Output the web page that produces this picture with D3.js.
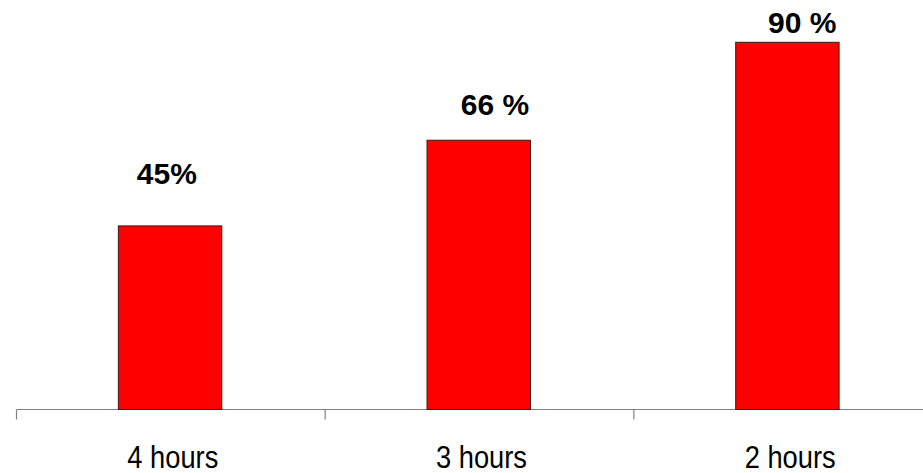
<!DOCTYPE html>
<html>
<head>
<meta charset="utf-8">
<script src="https://cdn.jsdelivr.net/npm/d3@7"></script>
<style>
  html, body { margin: 0; padding: 0; background: #fff; }
  svg { display: block; }
</style>
</head>
<body>
<svg id="chart" width="923" height="473"></svg>
<script>
// Share of cases per time window
const categories = ["4 hours", "3 hours", "2 hours"];
const values = [45, 66, 90];
const valueLabels = ["45%", "66 %", "90 %"];

// Hand placement of the value labels relative to each bar
const labelShiftX = [-4, 15.5, 14];
const labelGap = [41.5, 25, 9];

const svg = d3.select("#chart");
const W = 923, H = 473;
const baseY = 409.5;

const x = d3.scaleBand()
  .domain(categories)
  .range([16.5, 942.5])
  .padding(0);

const y = d3.scaleLinear()
  .domain([0, 100])
  .range([baseY, 1.5]);

const bw = x.bandwidth();
const barOffset = bw * 0.33;
const barWidth = bw * 0.335;

// Category axis
const axis = d3.axisBottom(x)
  .tickSize(0)
  .tickFormat("");
const axisG = svg.append("g")
  .attr("transform", `translate(0,${baseY})`)
  .call(axis);
axisG.select(".domain").remove();

axisG.append("line")
  .attr("x1", x.range()[0]).attr("x2", W + 20)
  .attr("y1", 0).attr("y2", 0)
  .attr("stroke", "#808080").attr("stroke-width", 1.2);

// Tick marks sit on band boundaries
axisG.selectAll(".sep")
  .data(categories)
  .join("line")
  .attr("class", "sep")
  .attr("x1", d => x(d)).attr("x2", d => x(d))
  .attr("y1", 0).attr("y2", 10)
  .attr("stroke", "#808080").attr("stroke-width", 1.2);

// Bars
svg.append("g")
  .selectAll("rect")
  .data(values)
  .join("rect")
  .attr("x", (d, i) => x(categories[i]) + barOffset)
  .attr("y", d => y(d))
  .attr("width", barWidth)
  .attr("height", d => baseY - y(d))
  .attr("fill", "#ff0000")
  .attr("stroke", "#3a1a1a")
  .attr("stroke-width", 1);

// Value labels
svg.append("g")
  .selectAll("text")
  .data(values)
  .join("text")
  .attr("x", (d, i) => x(categories[i]) + bw / 2 + labelShiftX[i])
  .attr("y", (d, i) => y(d) - labelGap[i])
  .attr("text-anchor", "middle")
  .attr("font-family", "Liberation Sans, Arial, sans-serif")
  .attr("font-weight", "bold")
  .attr("font-size", 30)
  .attr("fill", "#000")
  .text((d, i) => valueLabels[i]);

// Category labels, set in a slightly condensed face
svg.append("g")
  .selectAll("text")
  .data(categories)
  .join("text")
  .attr("transform", d => `translate(${x(d) + bw / 2 + 2},468) scale(0.88,1)`)
  .attr("text-anchor", "middle")
  .attr("font-family", "Liberation Sans, Arial, sans-serif")
  .attr("font-size", 31)
  .attr("fill", "#000")
  .text(d => d);
</script>
</body>
</html>
